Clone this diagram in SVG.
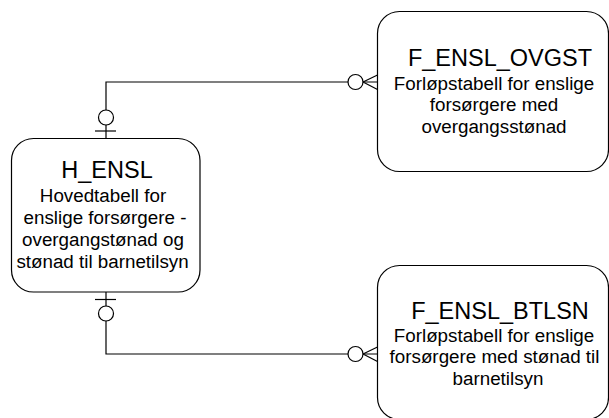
<svg xmlns="http://www.w3.org/2000/svg" width="609" height="418" viewBox="0 0 609 418">
<style>
.box{fill:#fff;stroke:#000;stroke-width:1.2}
.ln{fill:none;stroke:#000;stroke-width:1.2}
.o{fill:#fff;stroke:#000;stroke-width:1.2}
.t{font-family:"Liberation Sans",Arial,sans-serif;font-size:23.5px;fill:#000;text-anchor:middle}
.b{font-family:"Liberation Sans",Arial,sans-serif;font-size:18.8px;fill:#000;text-anchor:middle}
</style>
<rect width="609" height="418" fill="#fff"/>
<g id="connectors">
<g id="c1">
<path class="ln" d="M106 138.5 V82 H377.5"/>
<path class="ln" d="M95 131 H116"/>
<circle class="o" cx="106" cy="117.5" r="7.5"/>
<circle class="o" cx="355.5" cy="82" r="7.5"/>
<path class="ln" d="M363 82 L377.5 75 M363 82 L377.5 89.5"/>
</g>
<g id="c2">
<path class="ln" d="M106 292 V354 H377.5"/>
<path class="ln" d="M95 299.5 H116"/>
<circle class="o" cx="106" cy="313.5" r="7.5"/>
<circle class="o" cx="355.5" cy="354" r="7.5"/>
<path class="ln" d="M363 354 L377.5 347 M363 354 L377.5 361.5"/>
</g>
</g>
<g id="H_ENSL">
<rect class="box" x="11.5" y="138.5" width="188.5" height="153.5" rx="22"/>
<text class="t" x="107" y="177.5">H_ENSL</text>
<text class="b" x="103" y="201.5">Hovedtabell for</text>
<text class="b" x="105" y="223.5">enslige forsørgere -</text>
<text class="b" x="103" y="245.5">overgangstønad og</text>
<text class="b" x="102.5" y="267.5">stønad til barnetilsyn</text>
</g>
<g id="F_ENSL_OVGST">
<rect class="box" x="377.5" y="11.5" width="231" height="160" rx="22"/>
<text class="t" x="500" y="65.5">F_ENSL_OVGST</text>
<text class="b" x="494" y="89.5">Forløpstabell for enslige</text>
<text class="b" x="494" y="111">forsørgere med</text>
<text class="b" x="494" y="132.7">overgangsstønad</text>
</g>
<g id="F_ENSL_BTLSN">
<rect class="box" x="377.5" y="265.5" width="231" height="154" rx="22"/>
<text class="t" x="500" y="318.5">F_ENSL_BTLSN</text>
<text class="b" x="494" y="341.7">Forløpstabell for enslige</text>
<text class="b" x="494.5" y="363.3">forsørgere med stønad til</text>
<text class="b" x="498" y="385">barnetilsyn</text>
</g>
</svg>
